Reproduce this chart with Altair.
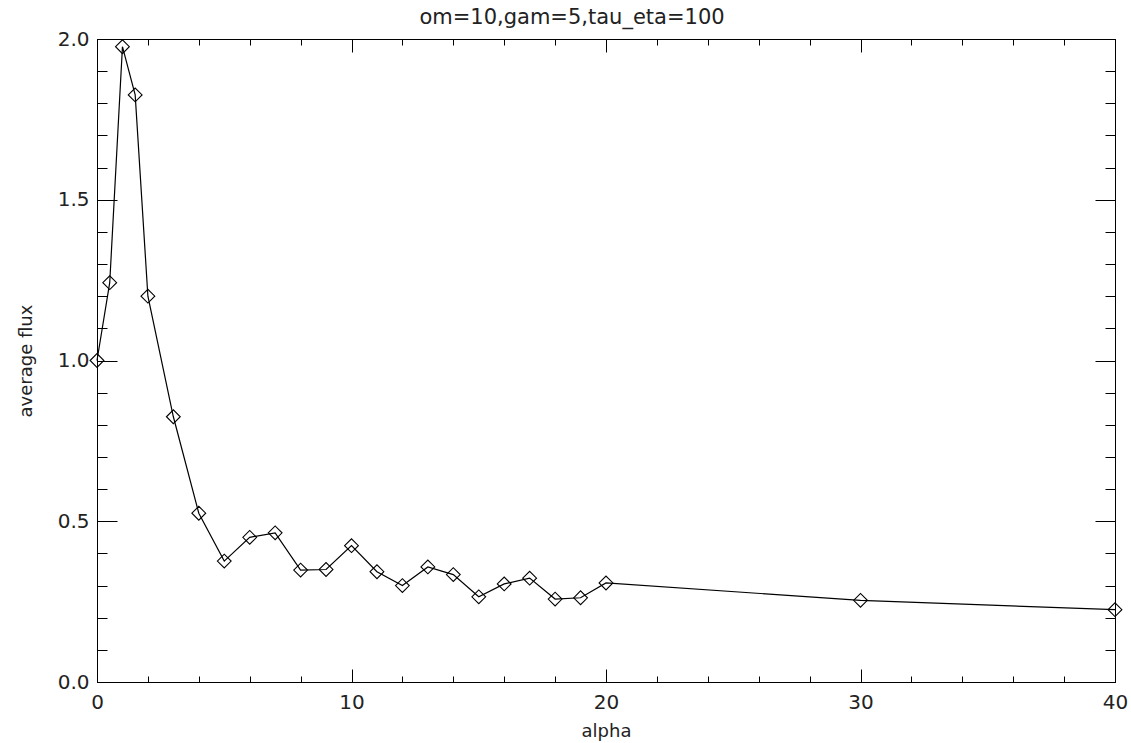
import altair as alt
import pandas as pd

# data
alpha = [0, 0.5, 1, 1.5, 2, 3, 4, 5, 6, 7, 8, 9, 10, 11, 12, 13, 14, 15, 16, 17, 18, 19, 20, 30, 40]
flux = [1.0, 1.242, 1.976, 1.826, 1.2, 0.825, 0.525, 0.376, 0.45, 0.464, 0.348, 0.35, 0.424,
        0.343, 0.30, 0.358, 0.334, 0.265, 0.305, 0.323, 0.258, 0.262, 0.308, 0.254, 0.225]

x_major = [0, 10, 20, 30, 40]
x_minor = [0, 2, 4, 6, 8, 10, 12, 14, 16, 18, 20, 22, 24, 26, 28, 30, 32, 34, 36, 38, 40]
y_major = [0.0, 0.5, 1.0, 1.5, 2.0]
y_minor = [0.0, 0.1, 0.2, 0.3, 0.4, 0.5, 0.6, 0.7, 0.8, 0.9, 1.0,
           1.1, 1.2, 1.3, 1.4, 1.5, 1.6, 1.7, 1.8, 1.9, 2.0]

title_text = "om=10,gam=5,tau_eta=100"
x_title = "alpha"
y_title = "average flux"

df = pd.DataFrame({"alpha": alpha, "flux": flux})

FONT = "DejaVu Sans"
FW = "normal"
TXT = "#222222"

xs = alt.Scale(domain=[0, 40], nice=False, zero=False)
ys = alt.Scale(domain=[0, 2], nice=False, zero=False)

base = alt.Chart(df)

line = base.mark_line(color="black", strokeWidth=1.2).encode(
    x=alt.X("alpha:Q", scale=xs, axis=alt.Axis(
        orient="bottom", values=x_major, format="d", ticks=False, grid=False,
        domain=True, domainColor="black", domainWidth=1,
        labelFont=FONT, labelFontWeight=FW, labelFontSize=20, labelColor=TXT,
        labelPadding=10, labelFlush=False, labelOverlap=False,
        title=x_title, titleFont=FONT, titleFontWeight=FW, titleFontSize=18,
        titleColor=TXT, titlePadding=10)),
    y=alt.Y("flux:Q", scale=ys, axis=alt.Axis(
        orient="left", values=y_major, format=".1f", ticks=False, grid=False,
        domain=True, domainColor="black", domainWidth=1,
        labelFont=FONT, labelFontWeight=FW, labelFontSize=20, labelColor=TXT,
        labelPadding=8, labelFlush=False, labelOverlap=False,
        title=y_title, titleFont=FONT, titleFontWeight=FW, titleFontSize=18,
        titleColor=TXT, titlePadding=22)),
)

points = base.mark_point(shape="diamond", filled=False, color="black", size=190,
                         strokeWidth=1.1, opacity=1).encode(
    x=alt.X("alpha:Q", scale=xs, axis=alt.Axis(
        orient="top", labels=False, ticks=False, grid=False, domain=True,
        domainColor="black", domainWidth=1, title=None)),
    y=alt.Y("flux:Q", scale=ys, axis=alt.Axis(
        orient="right", labels=False, ticks=False, grid=False, domain=True,
        domainColor="black", domainWidth=1, title=None)),
)


def tick_layer(xorient, yorient, xvals, yvals, xlen, ylen):
    return base.mark_point(opacity=0).encode(
        x=alt.X("alpha:Q", scale=xs, axis=alt.Axis(
            orient=xorient, values=xvals, labels=False, domain=False, grid=False,
            ticks=True, tickSize=xlen, offset=-xlen, tickColor="black", tickWidth=1,
            title=None)),
        y=alt.Y("flux:Q", scale=ys, axis=alt.Axis(
            orient=yorient, values=yvals, labels=False, domain=False, grid=False,
            ticks=True, tickSize=ylen, offset=-ylen, tickColor="black", tickWidth=1,
            title=None)),
    )


t1 = tick_layer("bottom", "left", x_major, y_major, 13, 20)
t2 = tick_layer("bottom", "left", x_minor, y_minor, 6, 10)
t3 = tick_layer("top", "right", x_major, y_major, 13, 20)
t4 = tick_layer("top", "right", x_minor, y_minor, 6, 10)

chart = alt.layer(line, points, t1, t2, t3, t4).resolve_axis(
    x="independent", y="independent"
).properties(
    width=1018,
    height=643,
    padding={"left": 97, "top": 39, "right": 16, "bottom": 61},
    autosize=alt.AutoSizeParams(type="none"),
    title=alt.TitleParams(title_text, font=FONT, fontWeight=FW, fontSize=21,
                          color=TXT, anchor="middle", offset=1, dx=-34),
).configure_view(stroke=None).configure(background="white")

chart.save("out.html", embed_options={"renderer": "svg", "actions": False})
